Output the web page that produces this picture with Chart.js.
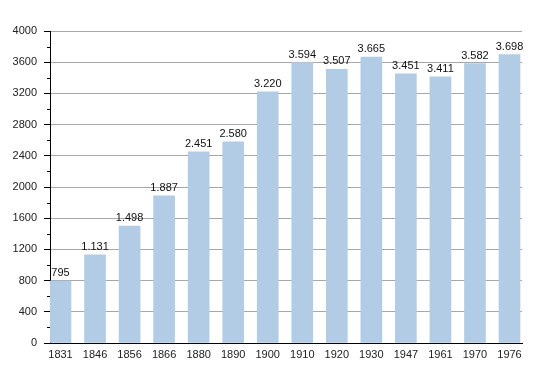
<!DOCTYPE html>
<html>
<head>
<meta charset="utf-8">
<script src="https://cdn.jsdelivr.net/npm/chart.js@4/dist/chart.umd.min.js"></script>
<style>
html,body{margin:0;padding:0;background:#fff;}
#wrap{width:550px;height:373px;position:relative;}
</style>
</head>
<body>
<div id="wrap"><canvas id="c" width="550" height="373"></canvas></div>
<script>
const years = ["1831","1846","1856","1866","1880","1890","1900","1910","1920","1930","1947","1961","1970","1976"];
const population = [795,1131,1498,1887,2451,2580,3220,3594,3507,3665,3451,3411,3582,3698];
const yMin = 0, yMax = 4000, yMajorStep = 400, yMinorStep = 200;

function fmt(v){
  return String(v).replace(/\B(?=(\d{3})+(?!\d))/g, ".");
}

const FONT = "'Liberation Sans', Arial, sans-serif";

const valueLabels = {
  id: 'valueLabels',
  afterDatasetsDraw(chart){
    const ctx = chart.ctx;
    const meta = chart.getDatasetMeta(0);
    ctx.save();
    ctx.font = "11px " + FONT;
    ctx.fillStyle = "#111";
    ctx.textAlign = "center";
    ctx.textBaseline = "alphabetic";
    meta.data.forEach((bar, i) => {
      ctx.fillText(fmt(population[i]), bar.x, bar.y - 5);
    });
    ctx.restore();
  }
};

const minorTicks = {
  id: 'minorTicks',
  afterDraw(chart){
    const s = chart.scales.y;
    const ctx = chart.ctx;
    ctx.save();
    ctx.strokeStyle = "#000";
    ctx.lineWidth = 1;
    for (let v = yMin; v <= yMax; v += yMinorStep){
      if (v % yMajorStep === 0) continue;
      const y = Math.round(s.getPixelForValue(v)) + 0.5;
      ctx.beginPath();
      ctx.moveTo(s.right - 3, y);
      ctx.lineTo(s.right, y);
      ctx.stroke();
    }
    ctx.restore();
  }
};

new Chart(document.getElementById('c'), {
  type: 'bar',
  data: {
    datasets: [{
      data: population.map((v, i) => ({x: i, y: v})),
      backgroundColor: '#b2cce6',
      borderWidth: 0,
      barThickness: 21
    }]
  },
  options: {
    responsive: false,
    animation: false,
    devicePixelRatio: 1,
    layout: {padding: {left: 0, top: 31, right: 28, bottom: 0}},
    plugins: {legend: {display: false}, tooltip: {enabled: false}},
    scales: {
      x: {
        type: 'linear',
        offset: false,
        min: -0.304,
        max: 13.362,
        afterBuildTicks: s => { s.ticks = years.map((_, i) => ({value: i})); },
        afterFit: s => { s.height = 30; },
        grid: {display: false, drawTicks: false},
        border: {display: true, color: '#000', width: 1},
        ticks: {
          autoSkip: false, maxRotation: 0, padding: 5,
          color: '#222', font: {family: FONT, size: 11},
          callback: v => years[v] !== undefined ? years[v] : ''
        }
      },
      y: {
        min: yMin, max: yMax,
        afterFit: s => { s.width = 50; },
        grid: {
          color: c => (c.tick && c.tick.value % yMajorStep === 0) ? '#a8a8a8' : '#e4e4e4',
          tickColor: c => (c.tick && c.tick.value % yMajorStep === 0) ? '#000' : 'rgba(0,0,0,0)',
          tickLength: 6,
          lineWidth: 1
        },
        border: {display: true, color: '#000', width: 1},
        ticks: {
          stepSize: yMinorStep, padding: 7,
          color: '#222', font: {family: FONT, size: 11},
          callback: v => v % yMajorStep === 0 ? String(v) : ''
        }
      }
    }
  },
  plugins: [valueLabels, minorTicks]
});
</script>
</body>
</html>
